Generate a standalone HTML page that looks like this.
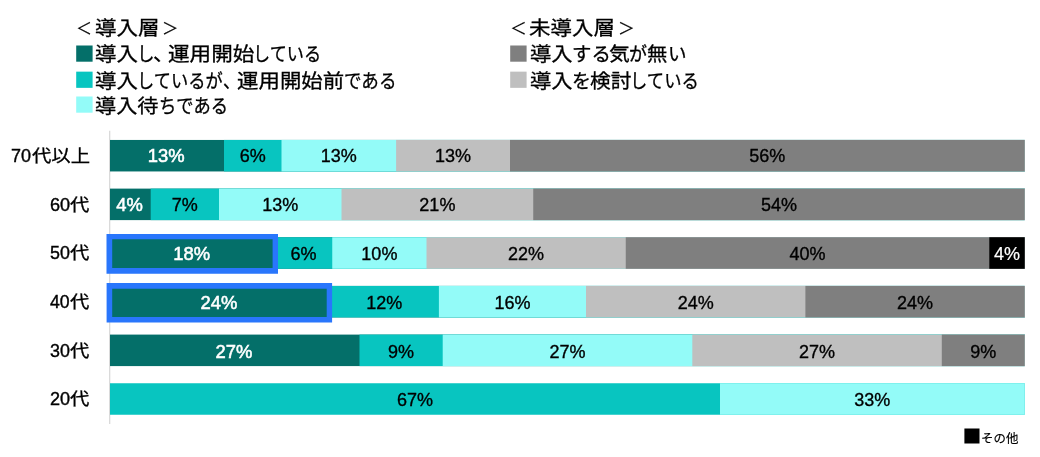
<!DOCTYPE html>
<html lang="ja"><head><meta charset="utf-8"><title>chart</title>
<style>
html,body{margin:0;padding:0;background:#fff;}
body{width:1040px;height:457px;overflow:hidden;position:relative;filter:blur(0.6px);font-family:"Liberation Sans","Noto Sans CJK JP",sans-serif;}
svg{position:absolute;left:0;top:0;}
svg text{font-family:"Liberation Sans","Noto Sans CJK JP",sans-serif;}
.v{font-size:18px;text-anchor:middle;fill:#000;stroke:#000;stroke-width:0.35px;}
.v.w{fill:#fff;stroke:#fff;stroke-width:0.55px;font-size:19px;transform-box:fill-box;transform-origin:50% 50%;transform:scaleX(0.97);}
.v.b{fill:#fff;stroke:#fff;stroke-width:0.2px;}
.ln{position:absolute;white-space:nowrap;height:40px;line-height:40px;font-size:0;color:#000;}
.t{display:inline-block;vertical-align:top;white-space:nowrap;line-height:40px;font-weight:400;transform-origin:0 50%;}
</style></head><body>
<svg width="1040" height="457" viewBox="0 0 1040 457">
<line x1="109.7" y1="130.8" x2="109.7" y2="423.9" stroke="#d6d6d6" stroke-width="1.2"/>
<rect x="110.00" y="139.95" width="914.70" height="31.5" fill="#046f69"/>
<text class="v w" x="166.20" y="162">13%</text>
<rect x="224.00" y="139.95" width="800.70" height="31.5" fill="#08c5c0"/>
<text class="v" x="252.75" y="162">6%</text>
<rect x="281.50" y="139.95" width="743.20" height="31.5" fill="#93fbf8"/>
<text class="v" x="338.80" y="162">13%</text>
<rect x="396.10" y="139.95" width="628.60" height="31.5" fill="#bfbfbf"/>
<text class="v" x="453.05" y="162">13%</text>
<rect x="510.00" y="139.95" width="514.70" height="31.5" fill="#7f7f7f"/>
<text class="v" x="767.35" y="162">56%</text>
<rect x="110.00" y="188.61" width="914.70" height="31.5" fill="#046f69"/>
<text class="v w" x="129.55" y="211">4%</text>
<rect x="150.70" y="188.61" width="874.00" height="31.5" fill="#08c5c0"/>
<text class="v" x="184.85" y="211">7%</text>
<rect x="219.00" y="188.61" width="805.70" height="31.5" fill="#93fbf8"/>
<text class="v" x="280.25" y="211">13%</text>
<rect x="341.50" y="188.61" width="683.20" height="31.5" fill="#bfbfbf"/>
<text class="v" x="437.38" y="211">21%</text>
<rect x="533.25" y="188.61" width="491.45" height="31.5" fill="#7f7f7f"/>
<text class="v" x="778.98" y="211">54%</text>
<rect x="110.00" y="237.27" width="914.70" height="31.5" fill="#046f69"/>
<text class="v w" x="191.70" y="260">18%</text>
<rect x="275.00" y="237.27" width="749.70" height="31.5" fill="#08c5c0"/>
<text class="v" x="303.62" y="260">6%</text>
<rect x="332.25" y="237.27" width="692.45" height="31.5" fill="#93fbf8"/>
<text class="v" x="379.38" y="260">10%</text>
<rect x="426.50" y="237.27" width="598.20" height="31.5" fill="#bfbfbf"/>
<text class="v" x="526.12" y="260">22%</text>
<rect x="625.75" y="237.27" width="398.95" height="31.5" fill="#7f7f7f"/>
<text class="v" x="807.52" y="260">40%</text>
<rect x="989.30" y="237.27" width="35.40" height="31.5" fill="#000000"/>
<text class="v b" x="1007.00" y="260">4%</text>
<rect x="110.00" y="285.93" width="914.70" height="31.5" fill="#046f69"/>
<text class="v w" x="219.00" y="309">24%</text>
<rect x="329.60" y="285.93" width="695.10" height="31.5" fill="#08c5c0"/>
<text class="v" x="384.25" y="309">12%</text>
<rect x="438.90" y="285.93" width="585.80" height="31.5" fill="#93fbf8"/>
<text class="v" x="512.45" y="309">16%</text>
<rect x="586.00" y="285.93" width="438.70" height="31.5" fill="#bfbfbf"/>
<text class="v" x="695.70" y="309">24%</text>
<rect x="805.40" y="285.93" width="219.30" height="31.5" fill="#7f7f7f"/>
<text class="v" x="915.05" y="309">24%</text>
<rect x="110.00" y="334.59" width="914.70" height="31.5" fill="#046f69"/>
<text class="v w" x="233.95" y="358">27%</text>
<rect x="359.50" y="334.59" width="665.20" height="31.5" fill="#08c5c0"/>
<text class="v" x="401.10" y="358">9%</text>
<rect x="442.70" y="334.59" width="582.00" height="31.5" fill="#93fbf8"/>
<text class="v" x="567.50" y="358">27%</text>
<rect x="692.30" y="334.59" width="332.40" height="31.5" fill="#bfbfbf"/>
<text class="v" x="817.05" y="358">27%</text>
<rect x="941.80" y="334.59" width="82.90" height="31.5" fill="#7f7f7f"/>
<text class="v" x="983.25" y="358">9%</text>
<rect x="110.00" y="383.25" width="914.70" height="31.5" fill="#08c5c0"/>
<text class="v" x="415.00" y="406">67%</text>
<rect x="720.00" y="383.25" width="304.70" height="31.5" fill="#93fbf8"/>
<text class="v" x="872.35" y="406">33%</text>
<path fill="#2976fc" fill-rule="evenodd" d="M106.5 233.9H278.0V273.85H106.5Z M112.2 239.3H272.6V268.1H112.2Z"/>
<path fill="#2976fc" fill-rule="evenodd" d="M106.6 283.1H332.1V322.4H106.6Z M112.2 288.8H326.7V317.1H112.2Z"/>
<rect x="76.2" y="45.5" width="16.4" height="16.2" fill="#046f69"/>
<rect x="76.2" y="71.65" width="16.4" height="16.2" fill="#08c5c0"/>
<rect x="76.2" y="96.5" width="16.4" height="16.2" fill="#93fbf8"/>
<rect x="510.2" y="45.5" width="16.4" height="16.2" fill="#7f7f7f"/>
<rect x="510.2" y="71.65" width="16.4" height="16.2" fill="#bfbfbf"/>
<rect x="964.4" y="428.5" width="15.1" height="15" fill="#000"/>
</svg>
<div class="ln" style="left:11.19px;top:135.90px"><span class="t" style="-webkit-text-stroke:0.4px #000;width:20.43px;font-size:19px;transform:scaleX(0.9468)">70</span><span class="t" style="-webkit-text-stroke:0.3px #000;font-size:17.5px;transform:scaleX(1.1039)">代以上</span></div>
<div class="ln" style="left:49.69px;top:184.56px"><span class="t" style="-webkit-text-stroke:0.4px #000;width:20.04px;font-size:19px;transform:scaleX(0.9519)">60</span><span class="t" style="-webkit-text-stroke:0.3px #000;font-size:17.5px;transform:scaleX(1.1029)">代</span></div>
<div class="ln" style="left:49.93px;top:233.22px"><span class="t" style="-webkit-text-stroke:0.4px #000;width:19.79px;font-size:19px;transform:scaleX(0.9400)">50</span><span class="t" style="-webkit-text-stroke:0.3px #000;font-size:17.5px;transform:scaleX(1.1029)">代</span></div>
<div class="ln" style="left:50.17px;top:281.88px"><span class="t" style="-webkit-text-stroke:0.4px #000;width:19.56px;font-size:19px;transform:scaleX(0.9284)">40</span><span class="t" style="-webkit-text-stroke:0.3px #000;font-size:17.5px;transform:scaleX(1.1029)">代</span></div>
<div class="ln" style="left:49.93px;top:330.54px"><span class="t" style="-webkit-text-stroke:0.4px #000;width:19.79px;font-size:19px;transform:scaleX(0.9400)">30</span><span class="t" style="-webkit-text-stroke:0.3px #000;font-size:17.5px;transform:scaleX(1.1029)">代</span></div>
<div class="ln" style="left:49.69px;top:379.20px"><span class="t" style="-webkit-text-stroke:0.4px #000;width:20.04px;font-size:19px;transform:scaleX(0.9519)">20</span><span class="t" style="-webkit-text-stroke:0.3px #000;font-size:17.5px;transform:scaleX(1.1029)">代</span></div>
<div class="ln" style="left:76.46px;top:7.50px"><span class="t" style="-webkit-text-stroke:0.3px #000;width:18.71px;font-size:19.5px;transform:scale(0.8197,0.83)">＜</span><span class="t" style="-webkit-text-stroke:0.3px #000;width:67.33px;font-size:19.5px;transform:scaleX(1.1031)">導入層</span><span class="t" style="-webkit-text-stroke:0.3px #000;font-size:19.5px;transform:scale(0.8426,0.83)">＞</span></div>
<div class="ln" style="left:95.18px;top:33.90px"><span class="t" style="-webkit-text-stroke:0.3px #000;width:41.38px;font-size:19.5px;transform:scaleX(1.0993)">導入</span><span class="t" style="-webkit-text-stroke:0.3px #000;width:16.10px;font-size:19.5px;transform:scaleX(0.8981)">し</span><span class="t" style="-webkit-text-stroke:0.3px #000;width:15.53px;font-size:19.5px;transform:scaleX(1.0870)">、</span><span class="t" style="-webkit-text-stroke:0.3px #000;width:84.74px;font-size:19.5px;transform:scaleX(1.1087)">運用開始</span><span class="t" style="-webkit-text-stroke:0.3px #000;font-size:19.5px;transform:scaleX(0.8804)">している</span></div>
<div class="ln" style="left:95.18px;top:60.50px"><span class="t" style="-webkit-text-stroke:0.3px #000;width:41.44px;font-size:19.5px;transform:scaleX(1.0993)">導入</span><span class="t" style="-webkit-text-stroke:0.3px #000;width:86.09px;font-size:19.5px;transform:scaleX(0.8848)">しているが</span><span class="t" style="-webkit-text-stroke:0.3px #000;width:14.24px;font-size:19.5px;transform:scaleX(0.8870)">、</span><span class="t" style="-webkit-text-stroke:0.3px #000;width:107.30px;font-size:19.5px;transform:scaleX(1.1000)">運用開始前</span><span class="t" style="-webkit-text-stroke:0.3px #000;font-size:19.5px;transform:scaleX(0.8995)">である</span></div>
<div class="ln" style="left:95.19px;top:85.90px"><span class="t" style="-webkit-text-stroke:0.3px #000;width:64.29px;font-size:19.5px;transform:scaleX(1.0847)">導入待</span><span class="t" style="-webkit-text-stroke:0.3px #000;font-size:19.5px;transform:scaleX(0.8867)">ちである</span></div>
<div class="ln" style="left:510.18px;top:7.50px"><span class="t" style="-webkit-text-stroke:0.3px #000;width:19.27px;font-size:19.5px;transform:scale(0.8590,0.83)">＜</span><span class="t" style="-webkit-text-stroke:0.3px #000;width:88.62px;font-size:19.5px;transform:scaleX(1.1007)">未導入層</span><span class="t" style="-webkit-text-stroke:0.3px #000;font-size:19.5px;transform:scale(0.8590,0.83)">＞</span></div>
<div class="ln" style="left:529.78px;top:33.90px"><span class="t" style="-webkit-text-stroke:0.3px #000;width:42.23px;font-size:19.5px;transform:scaleX(1.0940)">導入</span><span class="t" style="-webkit-text-stroke:0.3px #000;width:36.96px;font-size:19.5px;transform:scaleX(0.9957)">する</span><span class="t" style="-webkit-text-stroke:0.3px #000;width:20.11px;font-size:19.5px;transform:scaleX(1.0685)">気</span><span class="t" style="-webkit-text-stroke:0.3px #000;width:18.24px;font-size:19.5px;transform:scaleX(0.9260)">が</span><span class="t" style="-webkit-text-stroke:0.3px #000;width:20.54px;font-size:19.5px;transform:scaleX(1.0444)">無</span><span class="t" style="-webkit-text-stroke:0.3px #000;font-size:19.5px;transform:scaleX(0.9524)">い</span></div>
<div class="ln" style="left:529.78px;top:60.50px"><span class="t" style="-webkit-text-stroke:0.3px #000;width:42.28px;font-size:19.5px;transform:scaleX(1.0940)">導入</span><span class="t" style="-webkit-text-stroke:0.3px #000;width:18.01px;font-size:19.5px;transform:scaleX(0.9677)">を</span><span class="t" style="-webkit-text-stroke:0.3px #000;width:39.68px;font-size:19.5px;transform:scaleX(1.0632)">検討</span><span class="t" style="-webkit-text-stroke:0.3px #000;font-size:19.5px;transform:scaleX(0.8897)">している</span></div>
<div class="ln" style="left:980.66px;top:419.20px"><span class="t" style="-webkit-text-stroke:0.15px #000;font-size:12.5px;transform:scaleX(0.9958)">その他</span></div>
</body></html>
